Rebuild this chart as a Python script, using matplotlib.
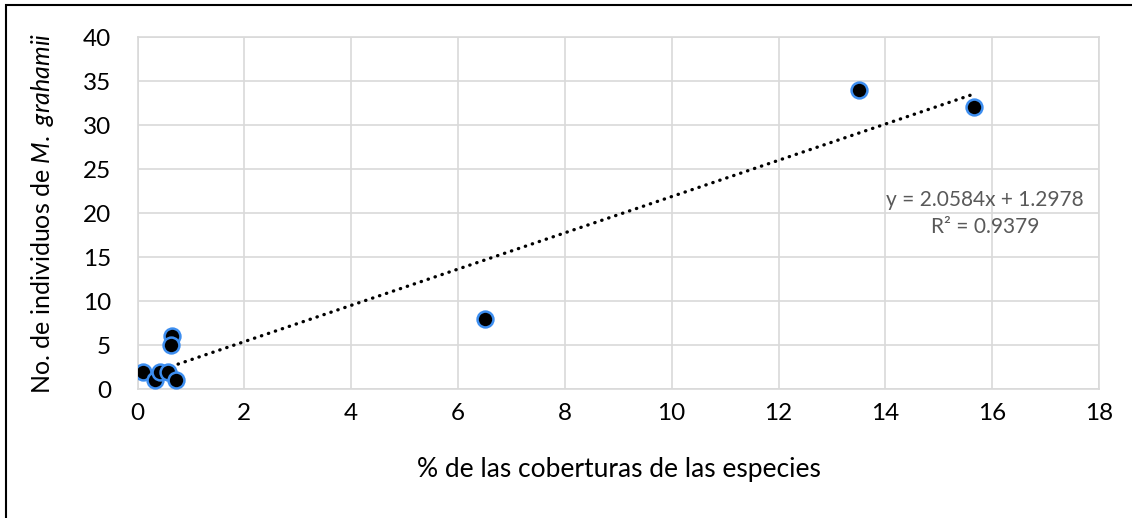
import matplotlib
matplotlib.use("Agg")
import matplotlib.pyplot as plt
from matplotlib.patches import Rectangle
import numpy as np

# Data
cobertura = [0.11, 0.33, 0.42, 0.57, 0.73, 0.64, 0.62, 6.5, 13.5, 15.66]
individuos = [2, 1, 2, 2, 1, 6, 5, 8, 34, 32]
slope = 2.0584
intercept = 1.2978
r2 = 0.9379
xticks = [0, 2, 4, 6, 8, 10, 12, 14, 16, 18]
yticks = [0, 5, 10, 15, 20, 25, 30, 35, 40]

plt.rcParams['font.family'] = ['Lato', 'DejaVu Sans']
plt.rcParams['mathtext.fontset'] = 'custom'
plt.rcParams['mathtext.it'] = 'Lato:italic'
plt.rcParams['mathtext.rm'] = 'Lato'

fig = plt.figure(figsize=(11.32, 5.18), dpi=100)
ax = fig.add_axes([137.5/1132, 1-389.3/518, (1099-137.5)/1132, (389.3-37)/518])

grid_c = '#D9D9D9'
ax.set_xlim(0, 18)
ax.set_ylim(0, 40)
ax.set_xticks(xticks)
ax.set_yticks(yticks)
ax.grid(True, color=grid_c, linewidth=1.2)
ax.set_axisbelow(True)
for s in ax.spines.values():
    s.set_color(grid_c)
    s.set_linewidth(1.2)
ax.tick_params(axis='y', length=0, labelsize=17.5, pad=19, colors='black')
ax.tick_params(axis='x', length=0, labelsize=17.5, pad=10, colors='black')

# Trendline
xs = np.array([min(cobertura), max(cobertura)])
ax.plot(xs, slope*xs + intercept, color='black', linewidth=2.4,
        linestyle=(0, (0.1, 2.1)), dash_capstyle='round', zorder=2)

ax.scatter(cobertura, individuos, s=130, facecolor='black', edgecolor='#3D8EF0',
           linewidth=1.8, zorder=3)

ax.text(15.87, 21.5, f"y = {slope}x + {intercept}", ha='center', va='center',
        fontsize=15, color='#595959')
ax.text(15.87, 18.4, f"R² = {r2}", ha='center', va='center',
        fontsize=15, color='#595959')

fig.text(619/1132, 1-469/518, "% de las coberturas de las especies", ha='center', va='center',
         fontsize=19)
fig.text(43/1132, 1-213/518, r"No. de individuos de $\it{M.\ grahamii}$", ha='center', va='center',
         rotation=90, fontsize=18)

fig.patches.append(Rectangle((6/1132, -0.1), 1.2, 1.1 - 5/518, transform=fig.transFigure,
                             fill=False, edgecolor='black', linewidth=1.5))

fig.savefig("out.png", dpi=100)
